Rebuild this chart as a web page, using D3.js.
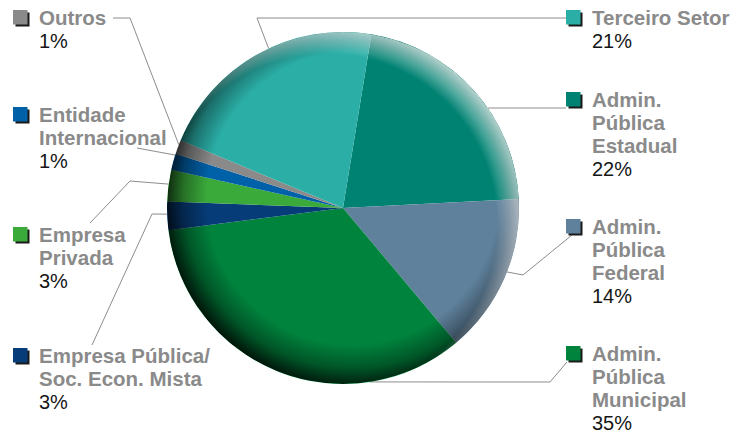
<!DOCTYPE html>
<html>
<head>
<meta charset="utf-8">
<script src="https://cdn.jsdelivr.net/npm/d3@7"></script>
<style>
  html, body { margin: 0; padding: 0; background: #fff; }
  svg { display: block; }
  .name { font-family: "Liberation Sans", Arial, sans-serif; font-weight: bold; font-size: 20.5px; fill: #8a8a8a; }
  .pct  { font-family: "Liberation Sans", Arial, sans-serif; font-size: 20px; fill: #151515; }
</style>
</head>
<body>
<script>
// slices in drawing order (clockwise from the top)
const categories = ["Admin. Pública Estadual", "Admin. Pública Federal", "Admin. Pública Municipal",
                    "Empresa Pública/ Soc. Econ. Mista", "Empresa Privada", "Entidade Internacional",
                    "Outros", "Terceiro Setor"];
const nameLines  = [["Admin.", "Pública", "Estadual"], ["Admin.", "Pública", "Federal"],
                    ["Admin.", "Pública", "Municipal"], ["Empresa Pública/", "Soc. Econ. Mista"],
                    ["Empresa", "Privada"], ["Entidade", "Internacional"], ["Outros"], ["Terceiro Setor"]];
const shares     = [21.6, 14.7, 34.1, 2.6, 2.9, 1.5, 1.3, 21.3];
const pctLabels  = ["22%", "14%", "35%", "3%", "3%", "1%", "1%", "21%"];
const colors     = ["#008272", "#5f819c", "#00843d", "#063c78", "#3aaa3a", "#0060a8", "#8a8a8a", "#2aaea6"];

const W = 752, H = 434;
const cx = 343, cy = 208, R = 176;
const start = 9.3 * Math.PI / 180;

// label placement: square top, column, leader elbows, angle where leader meets the rim
const layout = [
  {side: "R", top: 92,  elbows: [[566, 108], [488, 108]], deg: 55.4},
  {side: "R", top: 219, elbows: [[572, 235], [523, 275]], deg: 111.3},
  {side: "R", top: 346, elbows: [[567, 362], [550, 382]], deg: 171.2},
  {side: "L", top: 348, elbows: [[92, 345], [152, 214]], deg: 268},
  {side: "L", top: 227, elbows: [[90, 223], [130, 181]], deg: 277.8},
  {side: "L", top: 107, elbows: [[137, 148]], deg: 287.5},
  {side: "L", top: 10,  elbows: [[113, 18], [130, 18]], deg: 291.1},
  {side: "R", top: 10,  elbows: [[566, 18], [257, 18]], deg: 335}
];

const svg = d3.select("body").append("svg").attr("width", W).attr("height", H);
const defs = svg.append("defs");

defs.append("clipPath").attr("id", "pieClip")
  .append("circle").attr("cx", cx).attr("cy", cy).attr("r", R);

// darker rim toward bottom-left
const dark = defs.append("radialGradient").attr("id", "rimDark")
  .attr("gradientUnits", "userSpaceOnUse")
  .attr("cx", cx + 10).attr("cy", cy - 10).attr("r", R + 14);
dark.append("stop").attr("offset", (R - 30) / (R + 14)).attr("stop-color", "#000").attr("stop-opacity", 0);
dark.append("stop").attr("offset", (R - 6) / (R + 14)).attr("stop-color", "#000").attr("stop-opacity", 0.35);
dark.append("stop").attr("offset", 1).attr("stop-color", "#000").attr("stop-opacity", 0.85);

// lighter rim toward top-right
const light = defs.append("radialGradient").attr("id", "rimLight")
  .attr("gradientUnits", "userSpaceOnUse")
  .attr("cx", cx - 16).attr("cy", cy + 16).attr("r", R + 22);
light.append("stop").attr("offset", (R - 6) / (R + 22)).attr("stop-color", "#fff").attr("stop-opacity", 0);
light.append("stop").attr("offset", 1).attr("stop-color", "#fff").attr("stop-opacity", 0.7);

// leader lines
const rim = deg => {
  const a = deg * Math.PI / 180;
  return [cx + R * Math.sin(a), cy - R * Math.cos(a)];
};
const line = d3.line();
svg.append("g").selectAll("path")
  .data(layout)
  .join("path")
  .attr("d", d => line(d.elbows.concat([rim(d.deg)])))
  .attr("fill", "none")
  .attr("stroke", "#8c8c8c")
  .attr("stroke-width", 1);

// pie
const pie = d3.pie().sort(null).value(d => d).startAngle(start).endAngle(start + 2 * Math.PI);
const arc = d3.arc().innerRadius(0).outerRadius(R);

const g = svg.append("g").attr("transform", `translate(${cx},${cy})`);
g.selectAll("path")
  .data(pie(shares))
  .join("path")
  .attr("d", arc)
  .attr("fill", (d, i) => colors[i]);

svg.append("g").attr("clip-path", "url(#pieClip)")
  .call(s => s.append("circle").attr("cx", cx).attr("cy", cy).attr("r", R).attr("fill", "url(#rimDark)"))
  .call(s => s.append("circle").attr("cx", cx).attr("cy", cy).attr("r", R).attr("fill", "url(#rimLight)"));

// labels
const lab = svg.append("g").selectAll("g")
  .data(categories)
  .join("g")
  .attr("transform", (d, i) => `translate(${layout[i].side === "L" ? 13 : 566},${layout[i].top})`);

lab.append("rect").attr("x", 2.5).attr("y", 2.5).attr("width", 14).attr("height", 14).attr("fill", "#1a1a1a");
lab.append("rect").attr("width", 14.5).attr("height", 14.5).attr("fill", (d, i) => colors[i]);

lab.each(function(d, i) {
  const el = d3.select(this);
  nameLines[i].forEach((t, k) => {
    el.append("text").attr("class", "name").attr("x", 26).attr("y", 15 + k * 23).text(t);
  });
  el.append("text").attr("class", "pct").attr("x", 26).attr("y", 15 + nameLines[i].length * 23).text(pctLabels[i]);
});
</script>
</body>
</html>
